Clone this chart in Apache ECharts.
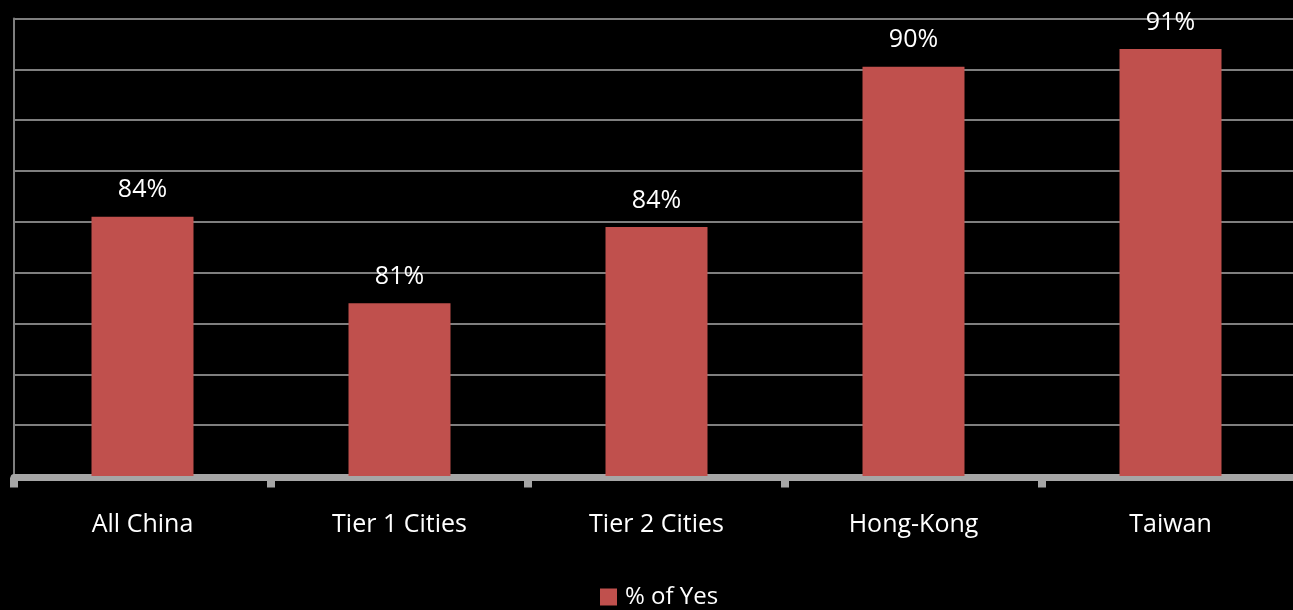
<!DOCTYPE html>
<html>
<head>
<meta charset="utf-8">
<title>% of Yes</title>
<script src="https://cdn.jsdelivr.net/npm/echarts@6/dist/echarts.min.js"></script>
<style>
  html, body { margin: 0; padding: 0; background: #000; overflow: hidden; }
  #chart { width: 1300px; height: 610px; }
</style>
</head>
<body>
<div id="chart"></div>
<script>
// Survey regions and share of "Yes" answers (percent)
const categories = ['All China', 'Tier 1 Cities', 'Tier 2 Cities', 'Hong-Kong', 'Taiwan'];
const yesShare = [84.2, 80.8, 83.8, 90.1, 90.8];
const seriesName = '% of Yes';

// Value axis range (percent)
const axisMin = 74;
const axisMax = 92;
const axisStep = 2;

const FONT = '"Open Sans", "Noto Sans", sans-serif';

const chart = echarts.init(document.getElementById('chart'), null, { renderer: 'canvas' });

chart.setOption({
  backgroundColor: '#000000',
  animation: false,
  textStyle: { fontFamily: FONT },
  // plot area runs slightly past the right edge of the visible page
  grid: { left: 14, top: 18.5, width: 1285, height: 457.5, containLabel: false },
  legend: {
    data: [seriesName],
    left: 600,
    top: 585,
    padding: 0,
    icon: 'rect',
    itemWidth: 17,
    itemHeight: 17,
    itemGap: 8,
    textStyle: { color: '#ffffff', fontSize: 24, fontFamily: FONT, padding: [0, 0, 0, 3] }
  },
  xAxis: {
    type: 'category',
    data: categories,
    boundaryGap: true,
    offset: 1.5,
    axisLine: { show: true, lineStyle: { color: '#a6a6a6', width: 7 } },
    axisTick: { show: true, alignWithLabel: false, length: 10, lineStyle: { color: '#a6a6a6', width: 8 } },
    axisLabel: { color: '#ffffff', fontSize: 25, fontFamily: FONT, margin: 35 },
    splitLine: { show: false }
  },
  yAxis: {
    type: 'value',
    min: axisMin,
    max: axisMax,
    interval: axisStep,
    axisLine: { show: true, lineStyle: { color: '#7f7f7f', width: 2 } },
    axisTick: { show: false },
    axisLabel: { show: false },
    splitLine: { show: true, lineStyle: { color: '#7f7f7f', width: 2 } }
  },
  series: [{
    name: seriesName,
    type: 'bar',
    data: yesShare,
    barWidth: 102,
    itemStyle: { color: '#c0504d' },
    label: {
      show: true,
      position: 'top',
      distance: 14,
      color: '#ffffff',
      fontSize: 25,
      fontFamily: FONT,
      formatter: p => Math.round(p.value) + '%'
    }
  }]
});
</script>
</body>
</html>
